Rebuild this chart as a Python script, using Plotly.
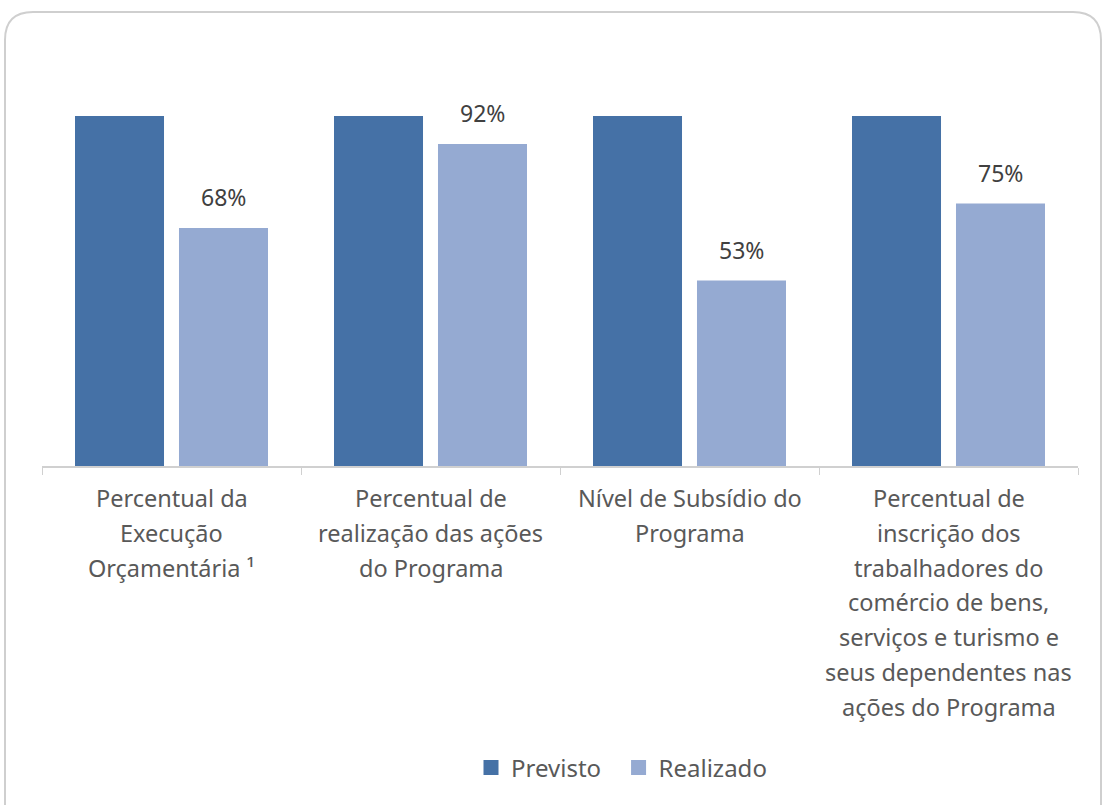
import plotly.graph_objects as go

categories = [
    "Percentual da<br>Execução<br>Orçamentária ¹",
    "Percentual de<br>realização das ações<br>do Programa",
    "Nível de Subsídio do<br>Programa",
    "Percentual de<br>inscrição dos<br>trabalhadores do<br>comércio de bens,<br>serviços e turismo e<br>seus dependentes nas<br>ações do Programa",
]
series_names = ["Previsto", "Realizado"]
previsto = [100, 100, 100, 100]
realizado = [68, 92, 53, 75]
colors = ["#4571A6", "#95AAD2"]

W, H = 1105, 805
L, R, T, B = 42, 27, 46, 339
pw, ph = W - L - R, H - T - B

def px_to_paper_x(px):
    return (px - L) / pw

def py_to_paper_y(py):
    return (H - B - py) / ph

FONT = "Noto Sans"

fig = go.Figure()
for name, vals, col in zip(series_names, [previsto, realizado], colors):
    fig.add_trace(go.Bar(name=name, x=categories, y=vals, marker_color=col,
                         marker_line_width=0, showlegend=False))
# legend proxies (larger square swatches); non-breaking spaces widen the gap between entries
for i, (name, col) in enumerate(zip(series_names, colors)):
    label = name + ("\u00a0\u00a0" if i == 0 else "")
    fig.add_trace(go.Scatter(name=label, x=[None], y=[None], mode="markers",
                             marker=dict(symbol="square", size=15, color=col), showlegend=True))

annotations = []
# value labels for Realizado
for c, v in zip(categories, realizado):
    annotations.append(dict(x=c, y=v, xref="x", yref="y", text=f"{v}%", showarrow=False,
                            xshift=52, yshift=31, font=dict(family=FONT, size=23, color="#404040")))
# category labels, line by line
for c in categories:
    for i, line in enumerate(c.split("<br>")):
        annotations.append(dict(x=c, y=py_to_paper_y(498 + i * 34.8), xref="x", yref="paper",
                                text=line, showarrow=False, yanchor="middle",
                                font=dict(family=FONT, size=23.5, color="#595959")))

# rounded border
x0, x1 = px_to_paper_x(5), px_to_paper_x(1101)
y0, y1 = py_to_paper_y(12), py_to_paper_y(830)
rx, ry = 28 / pw, 28 / ph
path = (f"M {x0},{y1} L {x0},{y0 - ry} Q {x0},{y0} {x0 + rx},{y0} "
        f"L {x1 - rx},{y0} Q {x1},{y0} {x1},{y0 - ry} L {x1},{y1}")

fig.update_layout(
    width=W, height=H,
    margin=dict(l=L, r=R, t=T, b=B),
    paper_bgcolor="white", plot_bgcolor="white",
    barmode="group", bargap=0.197, bargroupgap=0.144,
    annotations=annotations,
    shapes=[dict(type="path", path=path, xref="paper", yref="paper",
                 line=dict(color="#CFCFCF", width=2), layer="below")],
    showlegend=True,
    legend=dict(orientation="h", x=px_to_paper_x(471), xanchor="left",
                y=py_to_paper_y(768), yanchor="middle",
                font=dict(family=FONT, size=24, color="#595959"),
                itemwidth=30, traceorder="normal"),
    font=dict(family=FONT),
)
fig.update_xaxes(showticklabels=False, showline=True, linecolor="#D0D0D0", linewidth=1.5,
                 ticks="outside", tickson="boundaries", ticklen=7, tickcolor="#D0D0D0",
                 showgrid=False)
fig.update_yaxes(range=[0, 120], visible=False, showgrid=False)

fig.write_html("out.html", config={"displayModeBar": False},
               post_script="document.body.style.margin='0px';")
